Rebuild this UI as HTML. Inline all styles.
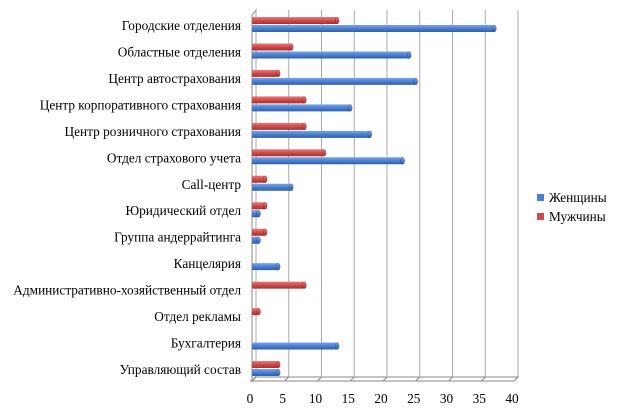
<!DOCTYPE html>
<html><head><meta charset="utf-8"><style>
body{margin:0;background:#fff;}
svg text{font-family:"Liberation Serif",serif;font-size:13.3px;fill:#000;}
</style></head><body>
<svg width="620" height="415">
<defs>
<linearGradient id="gb" x1="0" y1="0" x2="0" y2="1"><stop offset="0" stop-color="#7aa6e6"/><stop offset="0.5" stop-color="#4a7fd0"/><stop offset="1" stop-color="#2f5fa8"/></linearGradient>
<linearGradient id="gr" x1="0" y1="0" x2="0" y2="1"><stop offset="0" stop-color="#e87b7b"/><stop offset="0.5" stop-color="#d04a4a"/><stop offset="1" stop-color="#a83030"/></linearGradient>
</defs>
<g id="grid"></g>
<g id="bars"></g>
<g id="labels"></g>
<g>
<rect x="537" y="194" width="7" height="7" fill="#4a7fd0"/>
<text x="549" y="202">Женщины</text>
<rect x="537" y="213" width="7" height="7" fill="#d04a4a"/>
<text x="549" y="221">Мужчины</text>
</g>
</svg>
<script>
const categories=["Городские отделения","Областные отделения","Центр автострахования","Центр корпоративного страхования","Центр розничного страхования","Отдел страхового учета","Call-центр","Юридический отдел","Группа андеррайтинга","Канцелярия","Административно-хозяйственный отдел","Отдел рекламы","Бухгалтерия","Управляющий состав"];
const women=[37,24,25,15,18,23,6,1,1,4,0,0,13,4];
const men=[13,6,4,8,8,11,2,2,2,0,8,1,0,4];
const ticks=[0,5,10,15,20,25,30,35,40];
const NS="http://www.w3.org/2000/svg";
const x0=252,x1=514;
function xs(v){return x0+(v-0)/(40-0)*(x1-x0);}
function ys(i){return 26+i*(370-26)/(categories.length-1);}
function mk(t,a,p){const e=document.createElementNS(NS,t);for(const k in a)e.setAttribute(k,a[k]);p.appendChild(e);return e;}
const grid=document.getElementById('grid'),bars=document.getElementById('bars'),labels=document.getElementById('labels');
mk('path',{d:`M${x0} 381 L${x0+4} 376 L${x0+4} 10 L${x0} 15 Z`,fill:'none',stroke:'#888','stroke-width':1},grid);
mk('path',{d:`M${x0-2} 381 L${x1} 381 L${x1+4} 377 L${x0+4} 377`,fill:'none',stroke:'#888','stroke-width':1},grid);
ticks.forEach(t=>{
 const l=mk('line',{x1:xs(t)+4,y1:10,x2:xs(t)+4,y2:377,stroke:'#aaa','stroke-width':1},grid);
 
 mk('line',{x1:xs(t),y1:381,x2:xs(t)+4,y2:377,stroke:'#888'},grid);
 const tx=mk('text',{x:xs(t)-2,y:403,'text-anchor':'middle'},labels);tx.textContent=t;
 
});
function bar(v,y,fill,name){
 if(!v)return;
 const w=xs(v)-x0;
 const g=mk('g',{},bars);
 
 mk('rect',{x:x0,y:y,width:w,height:7,rx:1,fill:fill},g);
 mk('ellipse',{cx:x0+w,cy:y+3.5,rx:2,ry:3.5,fill:fill,stroke:'rgba(0,0,0,0.25)','stroke-width':0.6},g);
}
categories.forEach((c,i)=>{
 const y=ys(i);
 bar(men[i],y-9,'url(#gr)','bar-men-'+i);
 bar(women[i],y-1,'url(#gb)','bar-women-'+i);
 const t=mk('text',{x:241,y:y+4,'text-anchor':'end'},labels);t.textContent=c;
 
});
</script>
</body></html>
